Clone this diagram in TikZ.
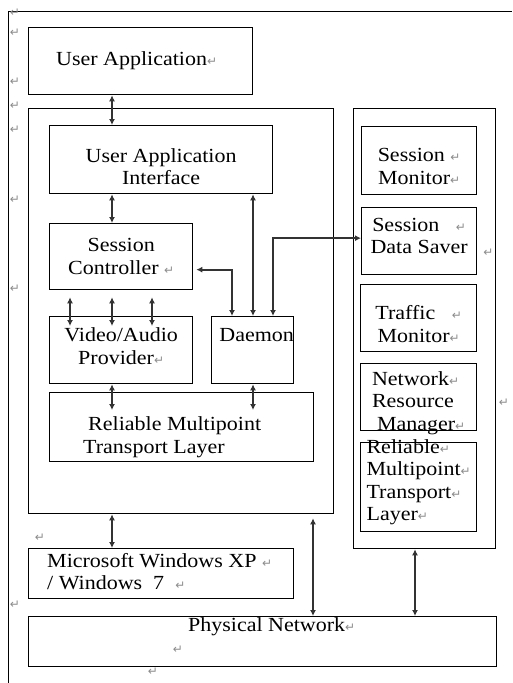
\documentclass[tikz,border=0pt]{standalone}
\usepackage{fontspec}
\setmainfont{Liberation Serif}[FakeStretch=1.1]
\newfontfamily\retfont{DejaVu Sans}[Scale=0.6]
\usetikzlibrary{arrows.meta,positioning}
\newcommand{\ret}{{\retfont\textcolor{black!45}{\symbol{"21B5}}}}

\tikzset{
  box/.style 2 args={draw, line width=1.3pt, anchor=north west, inner sep=0pt,
    minimum width=#1, minimum height=#2},
  txt/.style={inner sep=0pt, align=center, font=\fontsize{20}{22.5}\selectfont},
  retmark/.style={inner sep=0pt, font=\fontsize{20}{22.5}\selectfont},
  biarrow/.style={{Latex[length=6pt,width=6pt]}-{Latex[length=6pt,width=6pt]},
    line width=2.3pt, draw=black!80},
}

\begin{document}
\begin{tikzpicture}[x=1pt,y=-1pt]
  \useasboundingbox (0,0) rectangle (512,683);
  % page frame
  \draw[line width=1pt] (8,683) -- (8,11) -- (512,11);

  % boxes
  \draw (28,27) node[box={224pt}{67pt}] (userapp) {};
  \draw (28,108) node[box={305pt}{405pt}] (mainbox) {};
  \draw (49,125) node[box={223pt}{68pt}] (uai) {};
  \draw (49,223) node[box={143pt}{66pt}] (sc) {};
  \draw (49,316) node[box={143pt}{67pt}] (vap) {};
  \draw (211,316) node[box={82pt}{67pt}] (daemon) {};
  \draw (49,392) node[box={264pt}{69pt}] (rmtl) {};
  \draw (353,108) node[box={142pt}{440pt}] (sidebox) {};
  \draw (361,126) node[box={115pt}{68pt}] (sm) {};
  \draw (361,207) node[box={115pt}{67pt}] (sds) {};
  \draw (360,284) node[box={116pt}{67pt}] (tm) {};
  \draw (360,363) node[box={116pt}{67pt}] (nrm) {};
  \draw (360,442) node[box={116pt}{89pt}] (rmtr) {};
  \draw (28,548) node[box={265pt}{50pt}] (win) {};
  \draw (28,616) node[box={468pt}{50pt}] (pn) {};

  % texts
  \node[txt] (uatext) at ([xshift=-4pt]userapp.center) {User Application\ret};
  \node[txt] (uaitext) at ([yshift=-7pt]uai.center) {User Application\\Interface};
  \node[txt] (sctext) at (sc.center) {Session\\Controller \ret};
  \node[txt] (vaptext) at ([yshift=4pt]vap.center) {Video/Audio\\Provider\ret};
  \node[txt] (daemontext) at ([xshift=4pt,yshift=-19pt]daemon.north) {Daemon};
  \node[txt, align=left, anchor=west] (rmtltext) at ([xshift=34pt,yshift=-10pt]rmtl.west)
    {\hspace*{5pt}Reliable Multipoint\\Transport Layer};
  \node[txt] (smtext) at ([yshift=-6pt]sm.center) {Session \ret\\Monitor\ret};
  \node[txt] (sdstext) at ([yshift=5pt]sds.center) {Session \ \ \ret\\Data Saver};
  \node[txt] (tmtext) at ([yshift=-6pt]tm.center) {Traffic \ \ \ret\\Monitor\ret};
  \node[txt, align=left] (nrmtext) at ([yshift=-6pt]nrm.center)
    {Network\ret\\Resource\\\hspace*{5pt}Manager\ret};
  \node[txt, align=left] (rmtrtext) at ([yshift=5pt]rmtr.center)
    {Reliable\ret\\Multipoint\ret\\Transport\ret\\Layer\ret};
  \node[txt, align=left, anchor=west] (wintext) at ([xshift=19pt,yshift=2pt]win.west)
    {Microsoft Windows XP \ret\\/ Windows \ 7 \ \ret};
  \node[txt] (pntext) at ([xshift=9pt,yshift=-11pt]pn.north) {Physical Network\ret};

  % paragraph marks
  \foreach \yy in {13,33,82,106,130,200,289,605}
    \node[retmark] (retL\yy) at (15,\yy) {\ret};
  \node[retmark] (retwin) at (40,538) {\ret};
  \node[retmark] (retpn) at (178,650) {\ret};
  \node[retmark] (retbot) at (153,672) {\ret};
  \node[retmark] (retside) at (504,403) {\ret};
  \node[retmark] (retsds) at ([xshift=11pt,yshift=-12pt]sds.east) {\ret};

  % arrow columns
  \coordinate (xa) at (112,0);
  \coordinate (xb) at (70,0);
  \coordinate (xc) at (152,0);
  \coordinate (xd) at (253,0);
  \coordinate (xe) at (232,0);
  \coordinate (xf) at (273,0);
  \coordinate (xg) at (313,0);
  \coordinate (xh) at (415,0);

  % connectors
  \draw[biarrow] (userapp.south -| xa) -- (uai.north -| xa);
  \draw[biarrow] (uai.south -| xa) -- (sc.north -| xa);
  \foreach \cx in {xb,xa,xc}
    \draw[biarrow] ([yshift=-7pt]sc.south -| \cx) -- ([yshift=-10pt]vap.north -| \cx);
  \draw[biarrow] (vap.south -| xa) -- ([yshift=-18pt]rmtl.north -| xa);
  \draw[biarrow] (daemon.south -| xd) -- ([yshift=-18pt]rmtl.north -| xd);
  \draw[biarrow] (uai.south -| xd) -- (daemon.north -| xd);
  \draw[biarrow] ([xshift=3pt,yshift=-13pt]sc.east) -| (daemon.north -| xe);
  \draw[biarrow] (daemon.north -| xf) |- ([yshift=3pt]sds.west);
  \draw[biarrow] (mainbox.south -| xa) -- (win.north -| xa);
  \draw[biarrow] ([yshift=-4pt]mainbox.south -| xg) -- (pn.north -| xg);
  \draw[biarrow] (sidebox.south -| xh) -- (pn.north -| xh);
\end{tikzpicture}
\end{document}
